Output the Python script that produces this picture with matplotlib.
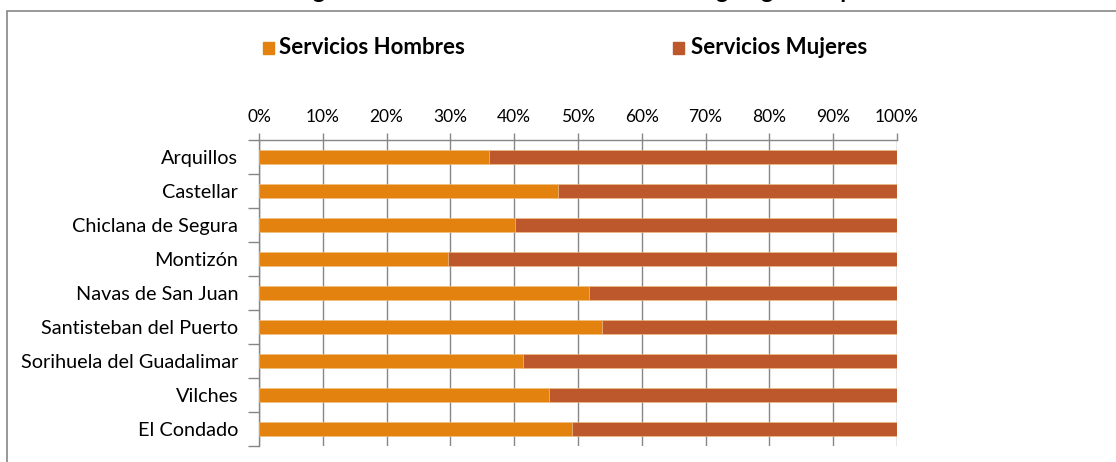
import matplotlib.pyplot as plt
import numpy as np
from matplotlib.patches import Rectangle

# data (100% stacked)
municipios = ['Arquillos', 'Castellar', 'Chiclana de Segura', 'Montizón',
              'Navas de San Juan', 'Santisteban del Puerto',
              'Sorihuela del Guadalimar', 'Vilches', 'El Condado']
hombres = [36.0, 46.8, 40.2, 29.6, 51.7, 53.8, 41.4, 45.4, 49.0]
mujeres = [64.0, 53.2, 59.8, 70.4, 48.3, 46.2, 58.6, 54.6, 51.0]
x_ticks = [0, 10, 20, 30, 40, 50, 60, 70, 80, 90, 100]

c_h = '#e4820f'
c_m = '#bd582c'
grey = '#868686'

plt.rcParams['font.family'] = ['Lato', 'DejaVu Sans']

W, H = 1116, 462
fig = plt.figure(figsize=(W / 100, H / 100), dpi=100)

# chart frame (runs off the right and bottom edges like the screenshot)
fig.patches.append(Rectangle((7 / W, -0.1), 1.2, 1 - 11 / H + 0.1,
                             transform=fig.transFigure, fill=False,
                             edgecolor=grey, lw=1.2))

# title, cut off at the top edge as in the screenshot
fig.text(558 / W, 1 + 2 / H, 'Afiliación a la Seguridad Social en el sector Servicios según género por localidad',
         ha='center', va='baseline', fontsize=17, fontweight='bold')

ax = fig.add_axes([259 / W, 1 - 446 / H, (897 - 259) / W, (446 - 140) / H])

y = np.arange(len(municipios))
h = np.array(hombres)
m = np.array(mujeres)
tot = h + m
ax.barh(y, h / tot * 100, height=0.4, color=c_h, edgecolor='#f0c080', lw=0.4, zorder=3)
ax.barh(y, m / tot * 100, left=h / tot * 100, height=0.4, color=c_m,
        edgecolor='#f0c080', lw=0.4, zorder=3)

ax.set_xlim(0, 100)
ax.set_ylim(len(municipios) - 0.5, -0.5)
ax.xaxis.tick_top()
ax.set_xticks(x_ticks)
ax.set_xticklabels([f'{v}%' for v in x_ticks], fontsize=12.5)
ax.tick_params(axis='x', length=5, color=grey, width=1, pad=6)
ax.grid(axis='x', color=grey, lw=1, zorder=0)

ax.set_yticks(y)
ax.set_yticklabels(municipios, fontsize=14.3)
ax.set_yticks(np.arange(-0.5, len(municipios)), minor=True)
ax.tick_params(axis='y', which='major', length=0, pad=15)
ax.tick_params(axis='y', which='minor', length=8, color=grey, width=1)

for s in ['right', 'bottom']:
    ax.spines[s].set_visible(False)
for s in ['left', 'top']:
    ax.spines[s].set_color(grey)
    ax.spines[s].set_linewidth(1)

# legend across the top
fig.patches.append(Rectangle((263 / W, 1 - 54 / H), 11 / W, 12 / H,
                             transform=fig.transFigure, color=c_h))
fig.text(279 / W, 1 - 47 / H, 'Servicios Hombres', fontsize=16,
         fontweight='bold', va='center')
fig.patches.append(Rectangle((673 / W, 1 - 54 / H), 11 / W, 12 / H,
                             transform=fig.transFigure, color=c_m))
fig.text(691 / W, 1 - 47 / H, 'Servicios Mujeres', fontsize=16,
         fontweight='bold', va='center')

fig.savefig('out.png', dpi=100)
